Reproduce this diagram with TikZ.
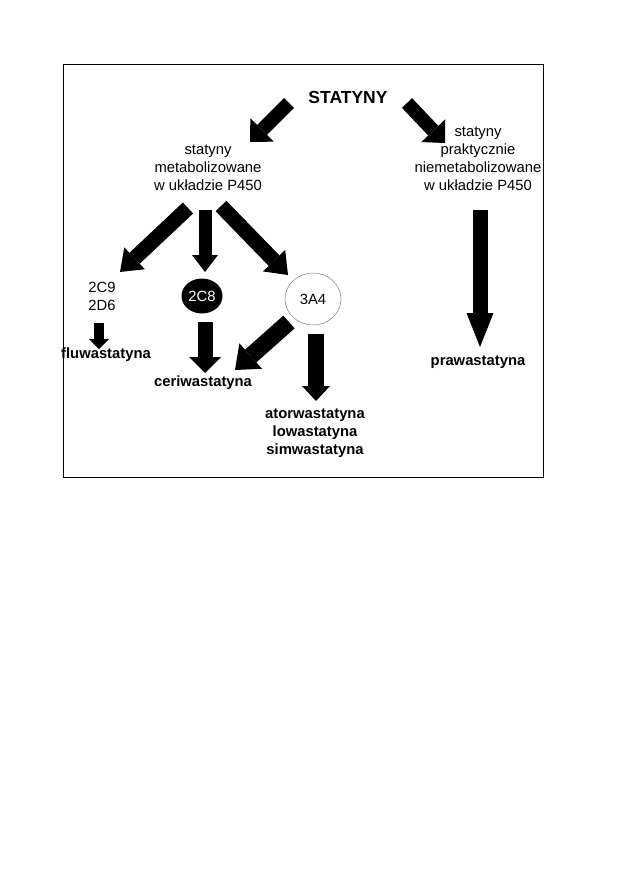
\documentclass[tikz,border=0pt]{standalone}
\usepackage{fontspec}
\setmainfont{Liberation Sans}
\usetikzlibrary{arrows.meta,shapes.geometric}

\begin{document}
\begin{tikzpicture}[x=1pt, y=-1pt, every node/.style={inner sep=0pt, align=center, font=\fontsize{14.8}{18}\selectfont},
  drug/.style={font=\fontsize{14.8}{18}\selectfont\bfseries},
  blk/.style={line width=15pt, -{Triangle[width=28pt, length=14pt, line width=0pt]}}]
\useasboundingbox (0,0) rectangle (630,893);
\draw[line width=0.8pt] (63,64) rectangle (543,477);
\node[font=\fontsize{17.5}{20}\selectfont\bfseries] (stat) at (348,97) {STATYNY};
\node (met) at (208,168) {statyny\\metabolizowane\\w układzie P450};
\node (nmet) at (478,159) {statyny\\praktycznie\\niemetabolizowane\\w układzie P450};
\node (c9) at (102,296) {2C9\\2D6};
\node[ellipse, fill=black, text=white, minimum width=41pt, minimum height=35pt] (c8) at (202,296) {2C8};
\node[ellipse, draw=gray, line width=0.5pt, minimum width=56pt, minimum height=52pt] (a4) at (313,299) {3A4};
\node[drug] (flu) at (106,355) {fluwastatyna};
\node[drug] (ceri) at (203,383) {ceriwastatyna};
\node[drug] (ator) at (315,433) {atorwastatyna\\lowastatyna\\simwastatyna};
\node[drug] (prawa) at (478,362) {prawastatyna};
\draw[blk, line width=14pt, -{Triangle[width=33pt, length=17pt, line width=0pt]}] ([shift={(-59,6)}]stat.center) -- ([shift={(42,-26)}]met.center);
\draw[blk, line width=14pt, -{Triangle[width=33pt, length=17pt, line width=0pt]}] ([shift={(59,6)}]stat.center) -- ([shift={(-33,-16)}]nmet.center);
\draw[blk, -{Triangle[width=30pt, length=20pt, line width=0pt]}] ([shift={(-20,40)}]met.center) -- ([shift={(18,-24)}]c9.center);
\draw[blk, line width=13pt, -{Triangle[width=26pt, length=17pt, line width=0pt]}] ([shift={(-3,42)}]met.center) -- ([shift={(3,-24)}]c8.center);
\draw[blk, -{Triangle[width=31pt, length=20pt, line width=0pt]}] ([shift={(13,38)}]met.center) -- ([shift={(-25,-24)}]a4.center);
\draw[blk, line width=10pt, -{Triangle[width=20pt, length=10pt, line width=0pt]}] ([shift={(-3,27)}]c9.center) -- ([shift={(-7,-6)}]flu.center);
\draw[blk, -{Triangle[width=32pt, length=16pt, line width=0pt]}] ([shift={(3,26)}]c8.center) -- ([shift={(2,-10)}]ceri.center);
\draw[blk, line width=17pt, -{Triangle[width=34pt, length=21pt, line width=0pt]}] ([shift={(-24,23)}]a4.center) -- ([shift={(32,-13)}]ceri.center);
\draw[blk, line width=16pt, -{Triangle[width=28pt, length=15pt, line width=0pt]}] ([shift={(3,35)}]a4.center) -- ([shift={(1,-32)}]ator.center);
\draw[blk, -{Triangle[width=27pt, length=34pt, line width=0pt]}] ([shift={(2,51)}]nmet.center) -- ([shift={(2,-15)}]prawa.center);
\end{tikzpicture}
\end{document}
